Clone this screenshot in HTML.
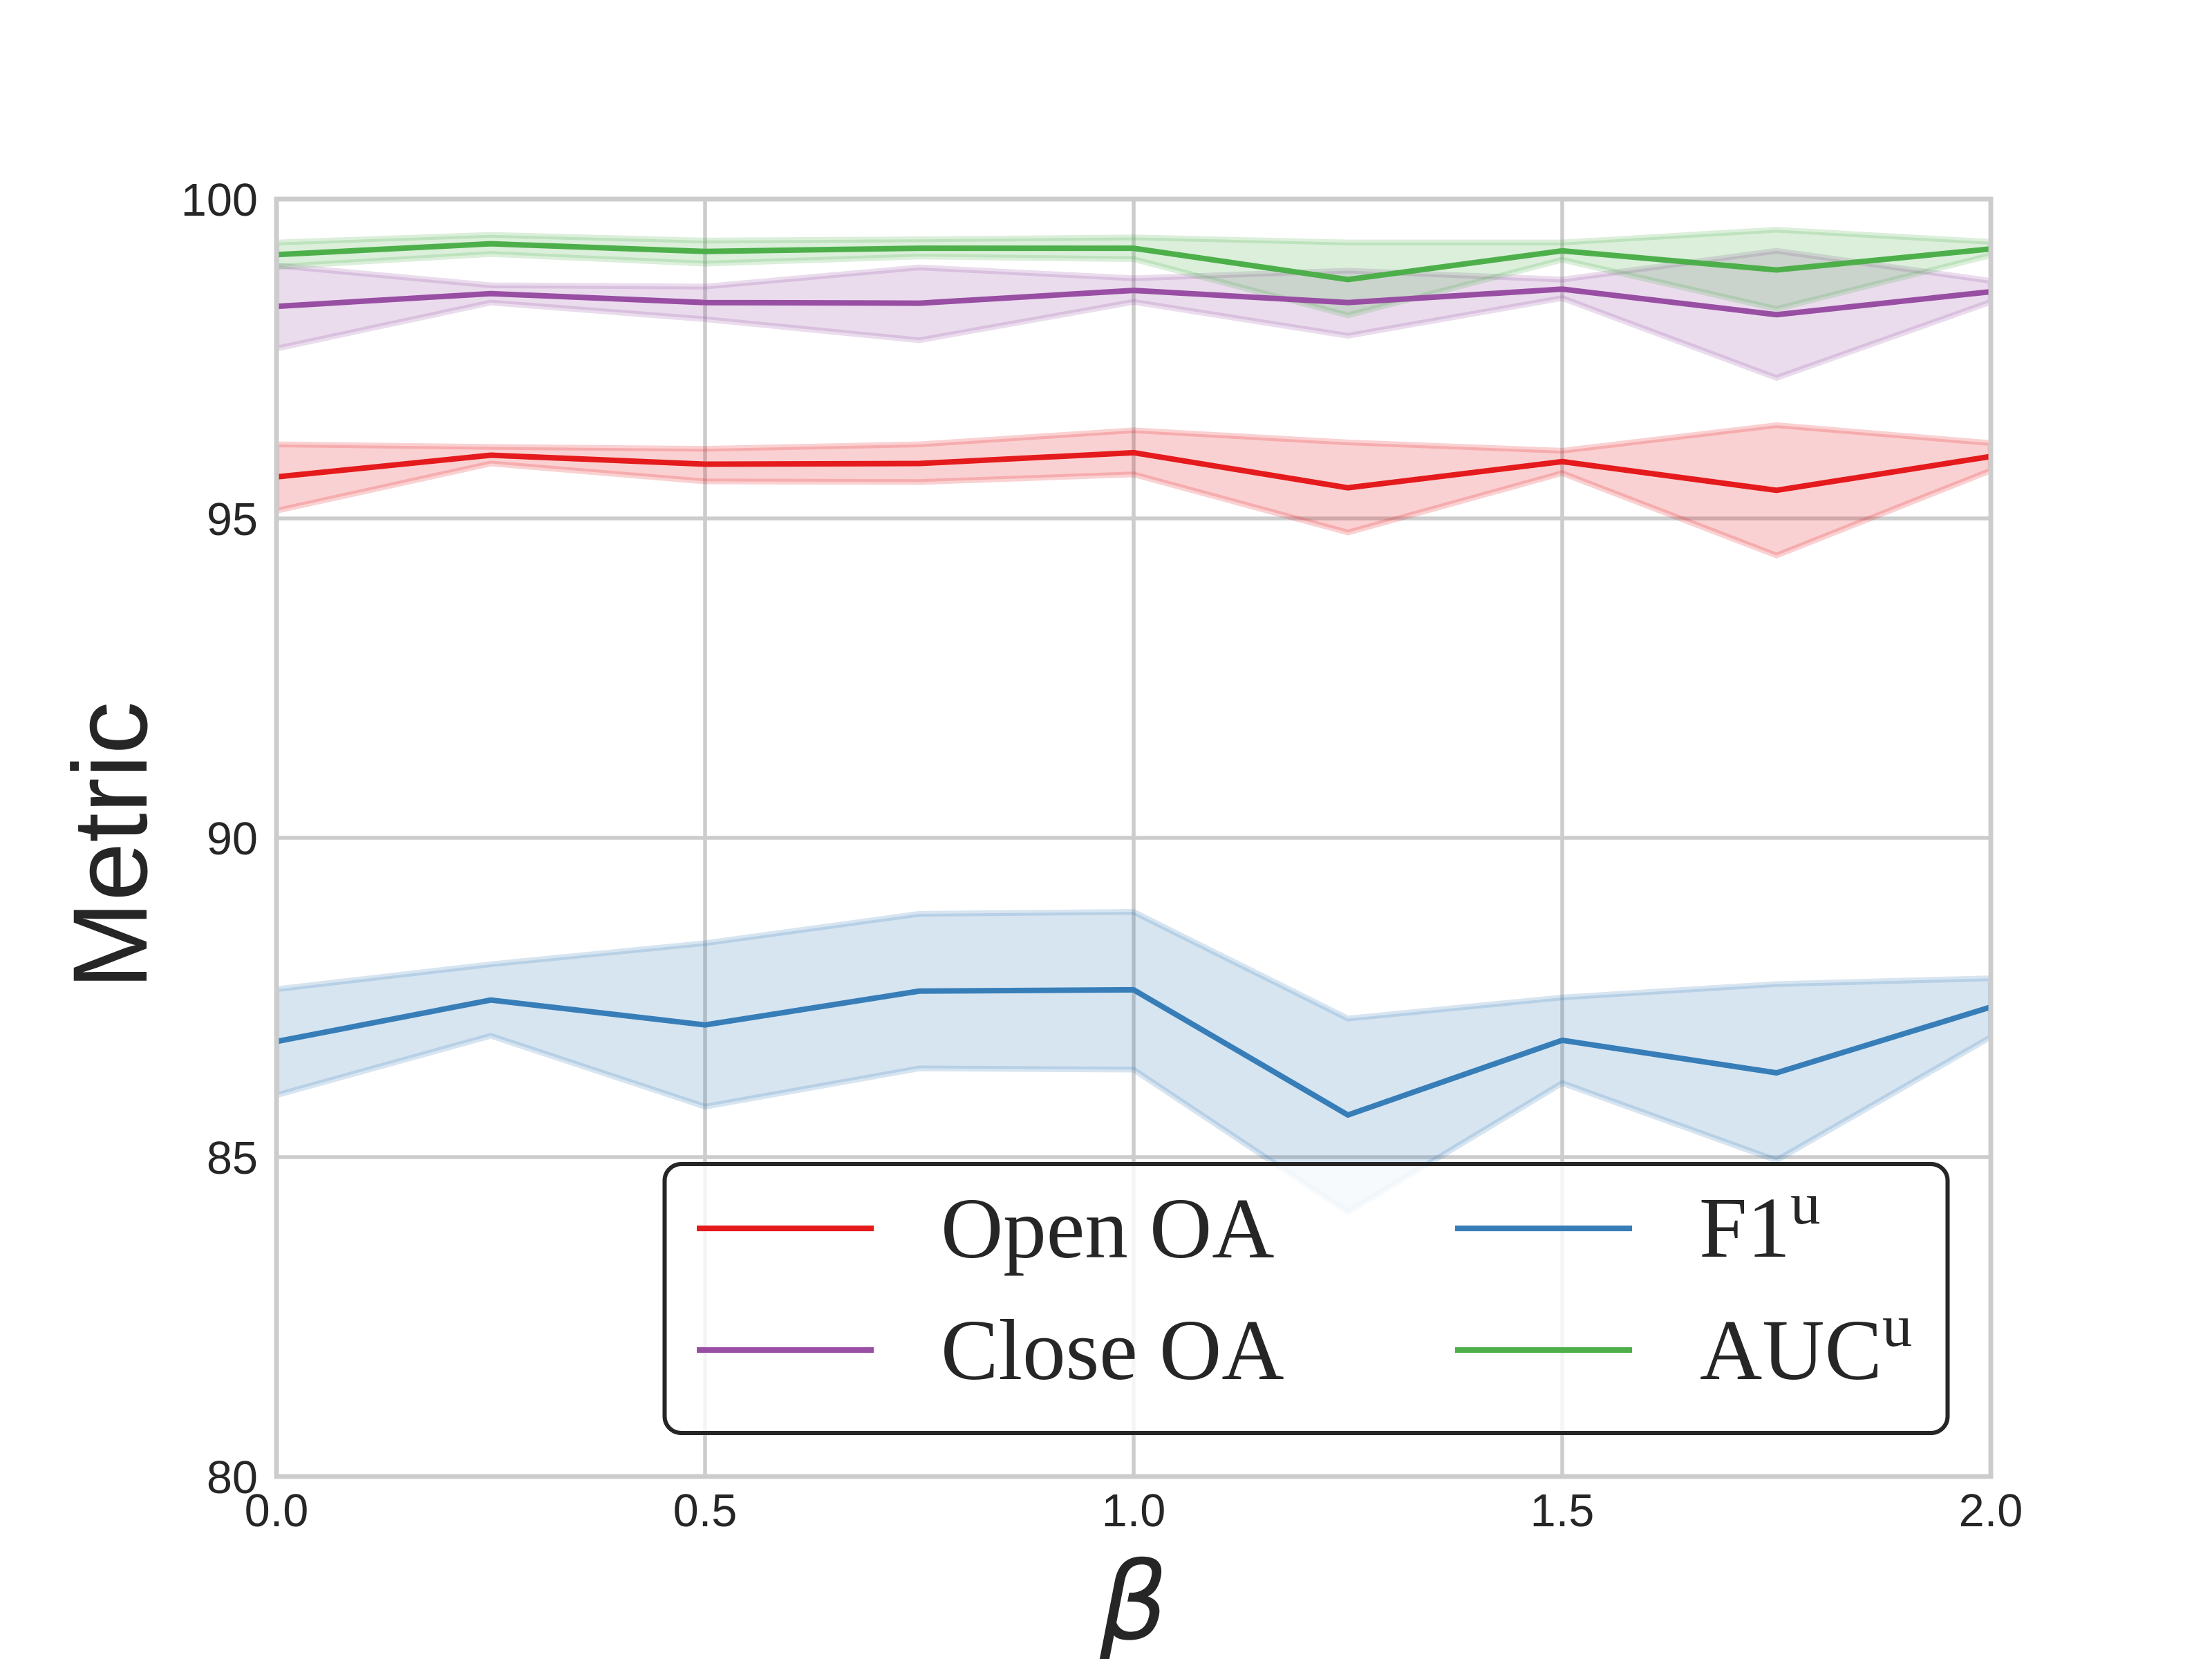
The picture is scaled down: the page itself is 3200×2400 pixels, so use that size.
<!DOCTYPE html>
<html lang="en">
<head>
<meta charset="utf-8">
<title>Metric vs beta</title>
<style>
  html, body { margin: 0; padding: 0; background: #ffffff; }
  svg { display: block; }
  .tick { font-family: "Liberation Sans", Arial, sans-serif; font-size: 66.67px; fill: #262626; }
  .legend-text { font-family: "Liberation Serif", "Times New Roman", serif; font-size: 125px; fill: #262626; }
</style>
</head>
<body>
<svg id="chart" xmlns="http://www.w3.org/2000/svg" width="3200" height="2400" viewBox="0 0 3200 2400">
  <rect x="0" y="0" width="3200" height="2400" fill="#ffffff"/>
  <defs>
    <clipPath id="plot-clip"><rect x="400" y="288" width="2480" height="1848"/></clipPath>
  </defs>
  <g id="grid"></g>
  <g id="bands" clip-path="url(#plot-clip)"></g>
  <g id="lines" clip-path="url(#plot-clip)"></g>
  <rect x="400" y="288" width="2480" height="1848" fill="none" stroke="#cccccc" stroke-width="6.9"/>
  <g id="ticks"></g>

  <text transform="translate(212,1223) rotate(-90)" text-anchor="middle" font-family="'Liberation Sans', Arial, sans-serif" font-size="153px" fill="#262626">Metric</text>
  <text x="1640" y="2371" text-anchor="middle" font-family="'DejaVu Sans', sans-serif" font-style="italic" font-size="155.6px" fill="#262626">β</text>

  <g>
    <rect x="961.5" y="1684" width="1856" height="389" rx="24" ry="24" fill="#ffffff" fill-opacity="0.8"/>
    <rect x="961.5" y="1684" width="1856" height="389" rx="24" ry="24" fill="none" stroke="#262626" stroke-width="6"/>
    <g>
      <line x1="1008" y1="1777" x2="1264" y2="1777" stroke="#e41a1c" stroke-width="8.3"/>
      <text class="legend-text" x="1361" y="1819">Open OA</text>
    </g>
    <g>
      <line x1="1008" y1="1953" x2="1264" y2="1953" stroke="#984ea3" stroke-width="8.3"/>
      <text class="legend-text" x="1361" y="1995">Close OA</text>
    </g>
    <g>
      <line x1="2105" y1="1777" x2="2361" y2="1777" stroke="#377eb8" stroke-width="8.3"/>
      <text class="legend-text" x="2458" y="1818">F1<tspan dy="-48" font-size="87px">u</tspan></text>
    </g>
    <g>
      <line x1="2105" y1="1953" x2="2361" y2="1953" stroke="#4daf4a" stroke-width="8.3"/>
      <text class="legend-text" x="2459" y="1995">AUC<tspan dy="-48" font-size="87px">u</tspan></text>
    </g>
  </g>
</svg>

<script>
const betaValues = [0, 0.25, 0.5, 0.75, 1.0, 1.25, 1.5, 1.75, 2.0];

const openMean  = [95.65, 95.99, 95.85, 95.86, 96.03, 95.48, 95.89, 95.44, 95.97];
const openUpper = [96.16, 96.12, 96.09, 96.16, 96.38, 96.19, 96.06, 96.46, 96.18];
const openLower = [95.12, 95.86, 95.58, 95.57, 95.69, 94.78, 95.71, 94.42, 95.75];

const closeMean  = [98.32, 98.52, 98.38, 98.37, 98.57, 98.38, 98.59, 98.19, 98.55];
const closeUpper = [98.96, 98.65, 98.63, 98.93, 98.76, 98.88, 98.74, 99.19, 98.72];
const closeLower = [97.66, 98.38, 98.12, 97.79, 98.39, 97.86, 98.45, 97.20, 98.39];

const f1Mean  = [86.81, 87.46, 87.07, 87.60, 87.62, 85.66, 86.83, 86.32, 87.35];
const f1Upper = [87.63, 88.02, 88.35, 88.81, 88.84, 87.17, 87.50, 87.71, 87.80];
const f1Lower = [85.97, 86.90, 85.79, 86.39, 86.37, 84.14, 86.16, 84.95, 86.88];

const aucMean  = [99.13, 99.30, 99.18, 99.23, 99.23, 98.74, 99.19, 98.89, 99.22];
const aucUpper = [99.32, 99.44, 99.35, 99.37, 99.40, 99.32, 99.32, 99.52, 99.33];
const aucLower = [98.94, 99.14, 98.99, 99.10, 99.06, 98.18, 99.05, 98.28, 99.12];

const xTickValues = [0, 0.5, 1.0, 1.5, 2.0];
const xTickLabels = ["0.0", "0.5", "1.0", "1.5", "2.0"];
const yTickValues = [80, 85, 90, 95, 100];
const yTickLabels = ["80", "85", "90", "95", "100"];

const SVG_NS = "http://www.w3.org/2000/svg";
const plotLeft = 400, plotRight = 2880, plotTop = 288, plotBottom = 2136;
const xMin = 0, xMax = 2, yMin = 80, yMax = 100;

function xScale(v) { return plotLeft + (v - xMin) / (xMax - xMin) * (plotRight - plotLeft); }
function yScale(v) { return plotBottom - (v - yMin) / (yMax - yMin) * (plotBottom - plotTop); }
function pointsOf(xs, ys) {
  return xs.map(function (x, i) { return xScale(x).toFixed(2) + " " + yScale(ys[i]).toFixed(2); });
}

const gridGroup = document.getElementById("grid");
const tickGroup = document.getElementById("ticks");
const bandGroup = document.getElementById("bands");
const lineGroup = document.getElementById("lines");

xTickValues.forEach(function (v, i) {
  const g = document.createElementNS(SVG_NS, "line");
  
  
  g.setAttribute("x1", xScale(v));
  g.setAttribute("x2", xScale(v));
  g.setAttribute("y1", plotTop);
  g.setAttribute("y2", plotBottom);
  g.setAttribute("stroke", "#cccccc");
  g.setAttribute("stroke-width", "5.5");
  gridGroup.appendChild(g);

  const t = document.createElementNS(SVG_NS, "text");
  
  
  t.setAttribute("class", "tick");
  t.setAttribute("x", xScale(v));
  t.setAttribute("y", plotBottom + 72);
  t.setAttribute("text-anchor", "middle");
  t.textContent = xTickLabels[i];
  tickGroup.appendChild(t);
});

yTickValues.forEach(function (v, i) {
  const g = document.createElementNS(SVG_NS, "line");
  
  
  g.setAttribute("x1", plotLeft);
  g.setAttribute("x2", plotRight);
  g.setAttribute("y1", yScale(v));
  g.setAttribute("y2", yScale(v));
  g.setAttribute("stroke", "#cccccc");
  g.setAttribute("stroke-width", "5.5");
  gridGroup.appendChild(g);

  const t = document.createElementNS(SVG_NS, "text");
  
  
  t.setAttribute("class", "tick");
  t.setAttribute("x", plotLeft - 27);
  t.setAttribute("y", yScale(v) + 24);
  t.setAttribute("text-anchor", "end");
  t.textContent = yTickLabels[i];
  tickGroup.appendChild(t);
});

function drawBand(upper, lower, color, name) {
  const p = document.createElementNS(SVG_NS, "path");
  
  
  const top = pointsOf(betaValues, upper);
  const bottom = pointsOf(betaValues, lower).reverse();
  p.setAttribute("d", "M" + top.concat(bottom).join(" L") + " Z");
  p.setAttribute("fill", color);
  p.setAttribute("fill-opacity", "0.2");
  p.setAttribute("stroke", color);
  p.setAttribute("stroke-opacity", "0.2");
  p.setAttribute("stroke-width", "8.3");
  p.setAttribute("stroke-linejoin", "miter");
  bandGroup.appendChild(p);
}

function drawLine(mean, color, name) {
  const p = document.createElementNS(SVG_NS, "path");
  
  
  p.setAttribute("d", "M" + pointsOf(betaValues, mean).join(" L"));
  p.setAttribute("fill", "none");
  p.setAttribute("stroke", color);
  p.setAttribute("stroke-width", "8");
  p.setAttribute("stroke-linejoin", "round");
  lineGroup.appendChild(p);
}

drawBand(openUpper, openLower, "#e41a1c", "open-oa-band");
drawBand(closeUpper, closeLower, "#984ea3", "close-oa-band");
drawBand(f1Upper, f1Lower, "#377eb8", "f1u-band");
drawBand(aucUpper, aucLower, "#4daf4a", "aucu-band");

drawLine(openMean, "#e41a1c", "open-oa-line");
drawLine(closeMean, "#984ea3", "close-oa-line");
drawLine(f1Mean, "#377eb8", "f1u-line");
drawLine(aucMean, "#4daf4a", "aucu-line");
</script>
</body>
</html>
